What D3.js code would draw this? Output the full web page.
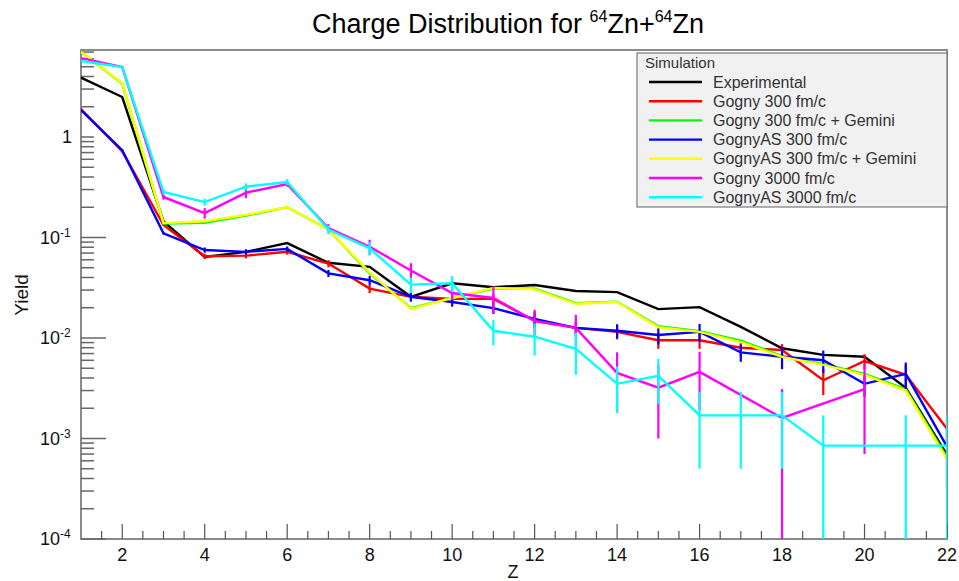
<!DOCTYPE html>
<html>
<head>
<meta charset="utf-8">
<script src="https://cdn.jsdelivr.net/npm/d3@7"></script>
<style>
  body { margin: 0; background: #fff; }
  svg { display: block; font-family: "Liberation Sans", Arial, sans-serif; }
</style>
</head>
<body>
<svg id="chart" width="959" height="581"></svg>
<script>
// charge number Z, 1..22
var zValues = [1, 2, 3, 4, 5, 6, 7, 8, 9, 10, 11, 12, 13, 14, 15, 16, 17, 18, 19, 20, 21, 22];

var experimental = [3.9, 2.5, 0.145, 0.064, 0.072, 0.088, 0.056, 0.051, 0.0257, 0.035, 0.032,
  0.0337, 0.0294, 0.0286, 0.0194, 0.0203, 0.0129, 0.0079, 0.0068, 0.0065, 0.0032, 0.00069];

var gogny300 = [1.9, 0.72, 0.133, 0.065, 0.066, 0.072, 0.055, 0.031, 0.0257, 0.0245, 0.0245,
  0.0148, 0.0126, 0.0115, 0.0095, 0.0095, 0.008, 0.0076, 0.0038, 0.0059, 0.0043, 0.00125];
var gogny300Err = [0.04, 0.015, 0.003, 0.004, 0.004, 0.0045, 0.0045, 0.003, 0.0026, 0.0025, 0.003,
  0.002, 0.0019, 0.0018, 0.0017, 0.0017, 0.0016, 0.0011, 0.0011, 0.001, 0.0011, 0.0004];

var gogny300Gemini = [7.0, 3.4, 0.138, 0.14, 0.165, 0.2, 0.12, 0.044, 0.0198, 0.025, 0.031,
  0.031, 0.0222, 0.023, 0.0131, 0.0117, 0.0094, 0.0066, 0.0055, 0.0044, 0.0031, 0.00065];

var gognyAS300 = [1.85, 0.74, 0.11, 0.075, 0.072, 0.077, 0.044, 0.0376, 0.0257, 0.0228, 0.0198,
  0.0155, 0.0126, 0.0118, 0.0107, 0.0115, 0.0072, 0.0065, 0.006, 0.0035, 0.0044, 0.00083];
var gognyAS300Err = [0.04, 0.015, 0.003, 0.0045, 0.0045, 0.0045, 0.0035, 0.0038, 0.0026, 0.0023, 0.0024,
  0.0028, 0.002, 0.0019, 0.0021, 0.0023, 0.0014, 0.0016, 0.0015, 0.0009, 0.0013, 0.0005];

var gognyAS300Gemini = [7.0, 3.45, 0.139, 0.145, 0.168, 0.2, 0.12, 0.045, 0.0195, 0.025, 0.0315,
  0.0305, 0.0219, 0.0228, 0.0128, 0.0115, 0.0091, 0.0065, 0.0054, 0.0043, 0.003, 0.00062];

var gogny3000 = [6.1, 4.97, 0.253, 0.175, 0.28, 0.34, 0.124, 0.081, 0.047, 0.028, 0.025,
  0.0148, 0.0126, 0.0045, 0.0032, 0.0046, null, 0.0016, null, 0.0031, null, null];
var gogny3000Err = [0.06, 0.05, 0.015, 0.021, 0.034, 0.02, 0.012, 0.014, 0.0085, 0.0042, 0.0075,
  0.0043, 0.0044, 0.0027, 0.0022, 0.0027, null, 0.0015, null, 0.0024, null, null];

var gognyAS3000 = [5.7, 4.97, 0.284, 0.225, 0.32, 0.357, 0.12, 0.078, 0.034, 0.035, 0.0118,
  0.0103, 0.0078, 0.0035, 0.0042, 0.0017, 0.0017, 0.0017, 0.00085, null, 0.00085, 0.00085];
var gognyAS3000Err = [0.1, 0.1, 0.017, 0.018, 0.026, 0.025, 0.012, 0.012, 0.006, 0.0063, 0.0033,
  0.0036, 0.0035, 0.0017, 0.002, 0.0012, 0.0012, 0.0012, 0.00085, null, 0.00085, 0.00085];

var seriesNames = ["Experimental", "Gogny 300 fm/c", "Gogny 300 fm/c + Gemini", "GognyAS 300 fm/c",
  "GognyAS 300 fm/c + Gemini", "Gogny 3000 fm/c", "GognyAS 3000 fm/c"];
var seriesColors = ["#000000", "#ff0000", "#00ff00", "#0000ff", "#ffff00", "#ff00ff", "#00ffff"];

var series = [
  { name: seriesNames[0], color: seriesColors[0], y: experimental, err: null },
  { name: seriesNames[1], color: seriesColors[1], y: gogny300, err: gogny300Err },
  { name: seriesNames[2], color: seriesColors[2], y: gogny300Gemini, err: null },
  { name: seriesNames[3], color: seriesColors[3], y: gognyAS300, err: gognyAS300Err },
  { name: seriesNames[4], color: seriesColors[4], y: gognyAS300Gemini, err: null },
  { name: seriesNames[5], color: seriesColors[5], y: gogny3000, err: gogny3000Err },
  { name: seriesNames[6], color: seriesColors[6], y: gognyAS3000, err: gognyAS3000Err }
];

var xTicks = [2, 4, 6, 8, 10, 12, 14, 16, 18, 20, 22];
var yMajor = [1, 0.1, 0.01, 0.001, 0.0001];
var yExponents = ["", "-1", "-2", "-3", "-4"];

var frameL = 81, frameR = 947, frameT = 50, frameB = 539;
var yMin = 1e-4, yMax = 7.34;

var svg = d3.select("#chart");

var x = d3.scaleLinear().domain([1, 22]).range([frameL, frameR]);
var y = d3.scaleLog().domain([yMin, yMax]).range([frameB, frameT]);

svg.append("defs").append("clipPath").attr("id", "frame-clip")
  .append("rect")
  .attr("x", frameL).attr("y", frameT)
  .attr("width", frameR - frameL).attr("height", frameB - frameT);

// title with superscript mass numbers
var title = svg.append("text")
  .attr("x", 508).attr("y", 33)
  .attr("text-anchor", "middle")
  .attr("font-size", "27px")
  .attr("fill", "#000");
title.append("tspan").text("Charge Distribution for ");
title.append("tspan").attr("font-size", "16px").attr("dy", -11).text("64");
title.append("tspan").attr("dy", 11).text("Zn+");
title.append("tspan").attr("font-size", "16px").attr("dy", -11).text("64");
title.append("tspan").attr("dy", 11).text("Zn");

// frame
svg.append("rect")
  .attr("x", frameL).attr("y", frameT)
  .attr("width", frameR - frameL).attr("height", frameB - frameT)
  .attr("fill", "none")
  .attr("stroke", "#8a8a8a")
  .attr("stroke-width", 2);

// y axis ticks (log, minor 2..9)
var gy = svg.append("g").attr("stroke", "#666").attr("stroke-width", 1.5);
for (var p = -4; p <= 0; p++) {
  for (var m = 1; m <= 9; m++) {
    var v = m * Math.pow(10, p);
    if (v < yMin || v > yMax) continue;
    var len = (m === 1 && p < 0) ? 25 : 13;
    gy.append("line")
      .attr("x1", frameL).attr("x2", frameL + len)
      .attr("y1", y(v)).attr("y2", y(v));
  }
}

// y tick labels
yMajor.forEach(function (v, i) {
  var t = svg.append("text")
    .attr("x", i === 0 ? 72 : 60)
    .attr("y", y(v) + 6)
    .attr("text-anchor", "end")
    .attr("font-size", "18px")
    .attr("fill", "#111");
  if (i === 0) {
    t.text("1");
  } else {
    t.append("tspan").text("10");
    t.append("tspan").attr("x", 60).attr("dy", -7).attr("font-size", "12px")
      .attr("text-anchor", "start").text(yExponents[i]);
  }
});

// x axis ticks: majors at even Z, minors every 0.5
var gx = svg.append("g").attr("stroke", "#555").attr("stroke-width", 1.2);
for (var z = 1.5; z <= 22; z += 0.5) {
  var major = xTicks.indexOf(z) >= 0;
  gx.append("line")
    .attr("x1", x(z)).attr("x2", x(z))
    .attr("y1", frameB).attr("y2", frameB - (major ? 15 : 8));
}

svg.append("g").selectAll("text")
  .data(xTicks)
  .join("text")
  .attr("x", function (d) { return x(d); })
  .attr("y", 561)
  .attr("text-anchor", "middle")
  .attr("font-size", "18px")
  .attr("fill", "#111")
  .text(function (d) { return d; });

svg.append("text")
  .attr("x", 513).attr("y", 578)
  .attr("text-anchor", "middle")
  .attr("font-size", "18px")
  .attr("fill", "#111")
  .text("Z");

svg.append("text")
  .attr("transform", "translate(28,295) rotate(-90)")
  .attr("text-anchor", "middle")
  .attr("font-size", "19px")
  .attr("fill", "#111")
  .text("Yield");

// data
var plot = svg.append("g").attr("clip-path", "url(#frame-clip)");

var line = d3.line()
  .x(function (d) { return x(d.z); })
  .y(function (d) { return y(d.v); });

series.forEach(function (s) {
  var pts = zValues.map(function (z, i) {
    return { z: z, v: s.y[i], e: s.err ? s.err[i] : null };
  }).filter(function (d) { return d.v != null; });

  var g = plot.append("g");

  if (s.err) {
    g.selectAll("line.err")
      .data(pts.filter(function (d) { return d.e != null; }))
      .join("line")
      .attr("class", "err")
      .attr("x1", function (d) { return x(d.z); })
      .attr("x2", function (d) { return x(d.z); })
      .attr("y1", function (d) { return y(d.v + d.e); })
      .attr("y2", function (d) { return d.v - d.e > yMin ? y(d.v - d.e) : frameB + 5; })
      .attr("stroke", s.color)
      .attr("stroke-width", 2.2);
  }

  g.append("path")
    .datum(pts)
    .attr("d", line)
    .attr("fill", "none")
    .attr("stroke", s.color)
    .attr("stroke-width", 2.4);
});

// legend
var lx = 637, ly = 53, lw = 310, lh = 154;
var legend = svg.append("g");
legend.append("rect")
  .attr("x", lx).attr("y", ly)
  .attr("width", lw).attr("height", lh)
  .attr("fill", "#f1f1f1")
  .attr("stroke", "#7a7a7a")
  .attr("stroke-width", 1.2);

legend.append("text")
  .attr("x", 645).attr("y", 68)
  .attr("font-size", "15px")
  .attr("fill", "#333")
  .text("Simulation");

series.forEach(function (s, i) {
  var ry = 82 + i * 19.2;
  legend.append("line")
    .attr("x1", 649).attr("x2", 702)
    .attr("y1", ry).attr("y2", ry)
    .attr("stroke", s.color)
    .attr("stroke-width", 2.4);
  legend.append("text")
    .attr("x", 713).attr("y", ry + 5.5)
    .attr("font-size", "16px")
    .attr("fill", "#333")
    .text(s.name);
});
</script>
</body>
</html>
